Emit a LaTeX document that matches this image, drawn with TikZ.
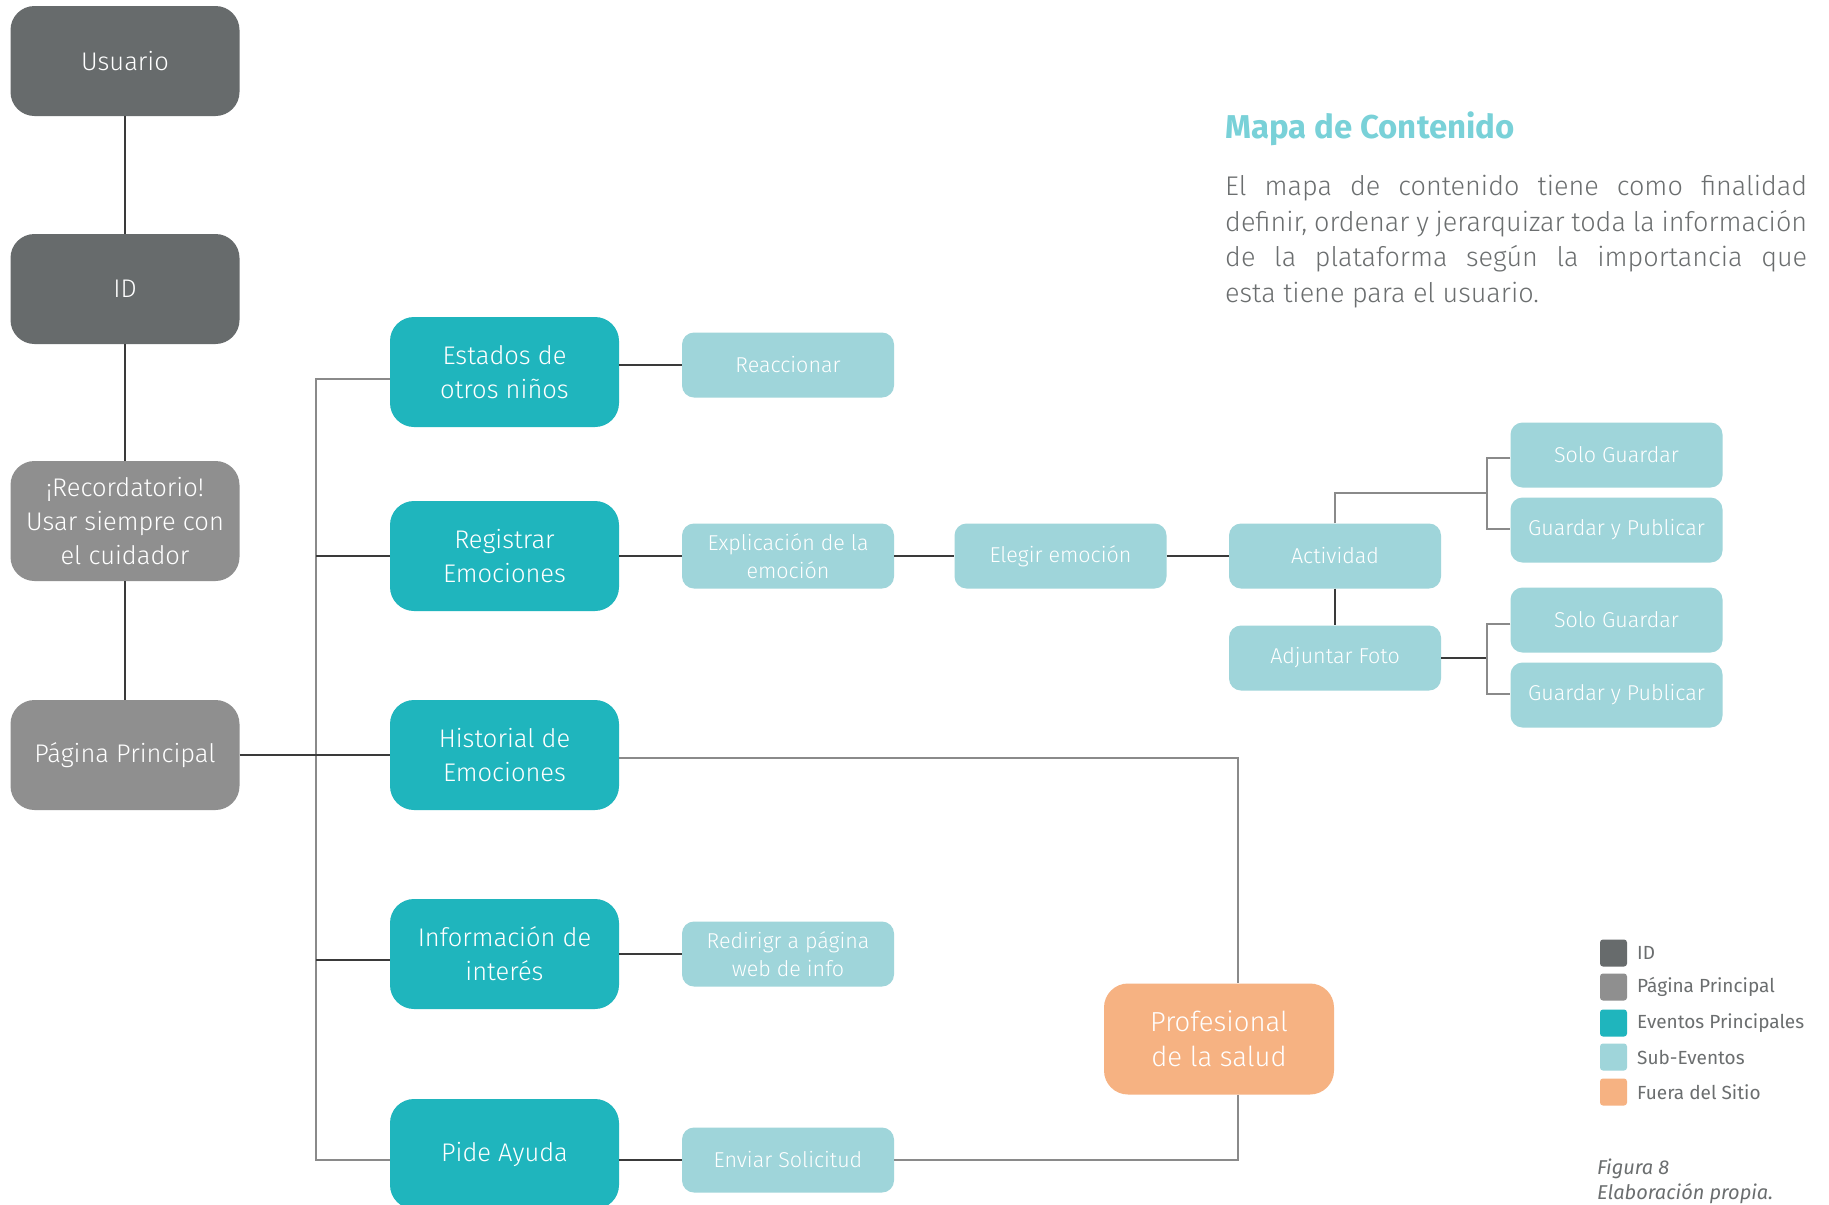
\documentclass[tikz,border=0pt]{standalone}
\usepackage{fontspec}
\IfFontExistsTF{Fira Sans Light}
  {\setmainfont{Fira Sans Light}[BoldFont=Fira Sans Medium, ItalicFont=Fira Sans Light Italic]}
  {\setmainfont{Fira Sans}}
\newfontfamily\legendfont{Fira Sans}
\newfontfamily\titlefont{Fira Sans}
\usetikzlibrary{calc}

\definecolor{idgray}{HTML}{676B6C}
\definecolor{pagegray}{HTML}{8F8F8F}
\definecolor{mainteal}{HTML}{1FB5BD}
\definecolor{subteal}{HTML}{9FD5DA}
\definecolor{outside}{HTML}{F6B282}
\definecolor{titleteal}{HTML}{79D1D8}
\definecolor{bodygray}{HTML}{6B6E6F}
\definecolor{linedark}{HTML}{3A3A3A}
\definecolor{linelight}{HTML}{8A8A8A}

\tikzset{
  bigbox/.style={rounded corners=24pt, minimum width=229pt, minimum height=110pt,
    inner sep=0pt, align=center, text=white,
    font=\fontsize{25.5}{34}\selectfont},
  idbox/.style={bigbox, fill=idgray},
  pagebox/.style={bigbox, fill=pagegray},
  mainbox/.style={bigbox, fill=mainteal},
  outbox/.style={bigbox, fill=outside, minimum width=230pt, minimum height=111pt,
    font=\fontsize{27.5}{35}\selectfont},
  subbox/.style={rounded corners=12pt, minimum width=212pt, minimum height=65pt,
    inner sep=0pt, align=center, text=white, fill=subteal,
    font=\fontsize{21.5}{27.5}\selectfont},
  conn/.style={draw=linedark, line width=1.3pt},
  busline/.style={draw=linelight, line width=1.3pt},
  swatch/.style={rounded corners=3pt, minimum size=27pt, inner sep=0pt},
  legendtext/.style={anchor=west, inner sep=0pt, text=bodygray,
    font=\legendfont\fontsize{19}{22}\selectfont},
}

\begin{document}
\begin{tikzpicture}[x=1pt, y=-1pt]
\useasboundingbox (0,0) rectangle (1829,1205);
\fill[white] (0,0) rectangle (1829,1205);

% left column
\node[idbox]   (usuario) at (125,61)  {Usuario};
\node[idbox]   (id)      at (125,289) {ID};
\node[pagebox, minimum height=120pt] (recor) at (125,521)
  {¡Recordatorio!\\Usar siempre con\\el cuidador};
\node[pagebox] (pagina)  at (125,755) {Página Principal};

% main events
\node[mainbox] (estados)   at (504.5,372) {Estados de\\otros niños};
\node[mainbox] (registrar) at (504.5,556) {Registrar\\Emociones};
\node[mainbox] (historial) at (504.5,755) {Historial de\\Emociones};
\node[mainbox] (info)      at (504.5,954) {Información de\\interés};
\node[mainbox] (pide)      at (504.5,1154) {Pide Ayuda};

% sub-events
\node[subbox] (reaccionar) at (788,365)  {Reaccionar};
\node[subbox] (explica)    at (788,556)  {Explicación de la\\emoción};
\node[subbox] (redirigir)  at (788,954)  {Redirigr a página\\web de info};
\node[subbox] (enviar)     at (788,1160) {Enviar Solicitud};
\node[subbox] (elegir)     at (1060.5,556) {Elegir emoción};
\node[subbox] (actividad)  at (1335,556) {Actividad};
\node[subbox] (adjuntar)   at (1335,658) {Adjuntar Foto};
\node[subbox] (sga)        at (1616.5,455) {Solo Guardar};
\node[subbox] (gpa)        at (1616.5,530) {Guardar y Publicar};
\node[subbox] (sgb)        at (1616.5,620) {Solo Guardar};
\node[subbox] (gpb)        at (1616.5,695) {Guardar y Publicar};

% outside the site
\node[outbox] (prof) at (1219,1039) {Profesional\\de la salud};

% helper coordinates for the elbows
\coordinate (bus)  at (316,0);
\coordinate (pk)   at (1238,0);
\coordinate (aj)   at (1487,493);
\coordinate (bj)   at (1487,658);

% left column chain
\draw[conn] (usuario) -- (id);
\draw[conn] (id) -- (recor);
\draw[conn] (recor) -- (pagina);

% main bus
\draw[busline] ([yshift=-7pt]estados.west) -| (bus |- enviar.west) -- (enviar.west -| pide.west);
\draw[conn] (registrar.west -| bus) -- (registrar.west);
\draw[conn] (pagina.east) -- (historial.west);
\draw[conn] ([yshift=-6pt]info.west -| bus) -- ([yshift=-6pt]info.west);

% event to sub-event links
\draw[conn] (reaccionar.west -| estados.east) -- (reaccionar.west);
\draw[conn] (registrar.east) -- (explica.west);
\draw[conn] (explica.east) -- (elegir.west);
\draw[conn] (elegir.east) -- (actividad.west);
\draw[conn] (info.east) -- (redirigir.west);
\draw[conn] (enviar.west -| pide.east) -- (enviar.west);

% history and help requests reach the health professional
\draw[busline] ([yshift=-3pt]historial.east) -| (pk |- prof.north);
\draw[busline] (pk |- prof.south) |- (enviar.east);

% activity branches
\draw[busline] (actividad.north) |- (aj);
\draw[busline] ([yshift=-3pt]sga.west) -| (aj) |- ([yshift=1pt]gpa.west);
\draw[conn] (actividad.south) -- (adjuntar.north);
\draw[conn] (adjuntar.east) -- (bj);
\draw[busline] ([yshift=-4pt]sgb.west) -| (bj) |- ([yshift=1pt]gpb.west);

% heading and description
\node[anchor=west, inner sep=0pt, text=titleteal,
  font=\titlefont\bfseries\fontsize{33}{38}\selectfont] (title) at (1225,129) {Mapa de Contenido};
\node[anchor=north west, inner sep=0pt, text=bodygray, align=left,
  font=\fontsize{27}{35.5}\selectfont] (desc) at (1225,175)
  {\makebox[582pt][s]{El mapa de contenido tiene como finalidad}\\
   \makebox[582pt][s]{definir, ordenar y jerarquizar toda la información}\\
   \makebox[582pt][s]{de la plataforma según la importancia que}\\
   esta tiene para el usuario.};

% legend
\node[swatch, fill=idgray]   (lid)   at (1613.5,953)  {};
\node[swatch, fill=pagegray] (lpag)  at (1613.5,987)  {};
\node[swatch, fill=mainteal] (lmain) at (1613.5,1023) {};
\node[swatch, fill=subteal]  (lsub)  at (1613.5,1057) {};
\node[swatch, fill=outside]  (lout)  at (1613.5,1092) {};
\node[legendtext] (tid)   at (1637,953)  {ID};
\node[legendtext] (tpag)  at (1637,987)  {Página Principal};
\node[legendtext] (tmain) at (1637,1023) {Eventos Principales};
\node[legendtext] (tsub)  at (1637,1057) {Sub-Eventos};
\node[legendtext] (tout)  at (1637,1092) {Fuera del Sitio};

% caption
\node[anchor=west, inner sep=0pt, text=bodygray, align=left,
  font=\legendfont\itshape\fontsize{20}{25}\selectfont] (cap) at (1597,1181)
  {Figura 8\\Elaboración propia.};
\end{tikzpicture}
\end{document}
